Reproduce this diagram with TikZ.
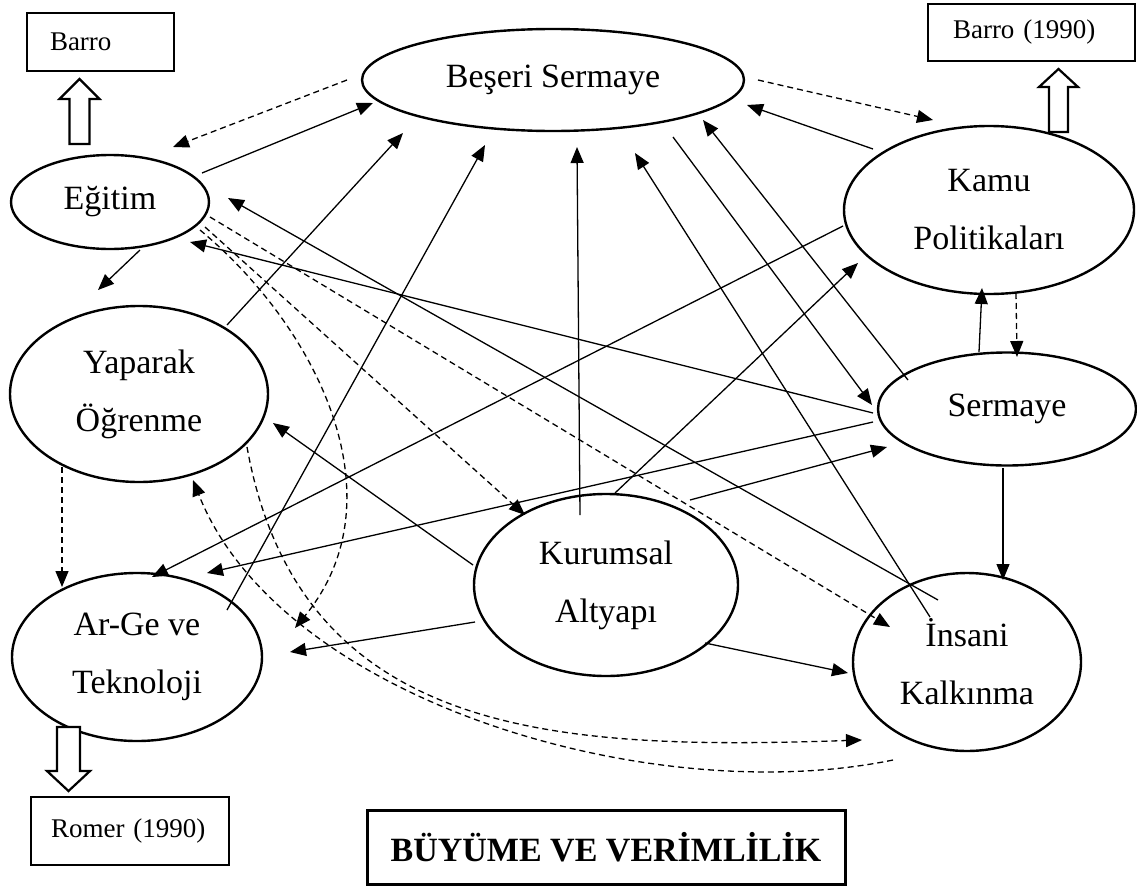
\documentclass[tikz,border=0pt]{standalone}
\usepackage{fontspec}
\setmainfont{Liberation Serif}
\usetikzlibrary{arrows.meta,shapes.geometric}
\begin{document}
\begin{tikzpicture}[x=1pt,y=-1pt,
  ell/.style={draw,ellipse,line width=2.4pt,inner sep=0pt,outer sep=0pt,align=center,font=\fontsize{34}{58}\selectfont},
  refbox/.style={draw,rectangle,line width=2pt,inner sep=0pt,align=left,font=\fontsize{27}{33}\selectfont},
  con/.style={line width=1.3pt,-{Triangle[length=16pt,width=13pt]}},
  dcon/.style={con,dash pattern=on 6pt off 4pt},
  hollow/.style={draw,line width=2.2pt,fill=white,line join=miter}
]
\useasboundingbox (0,0) rectangle (1137,886);

% ellipses
\node[ell,minimum width=382pt,minimum height=102pt] (bs) at (553,80) {Beşeri Sermaye};
\node[ell,minimum width=198pt,minimum height=94pt] (eg) at (110,202) {Eğitim};
\node[ell,minimum width=258pt,minimum height=176pt] (yo) at (139,394) {Yaparak\\Öğrenme};
\node[ell,minimum width=250pt,minimum height=168pt] (ag) at (137,657) {Ar-Ge ve\\Teknoloji};
\node[ell,minimum width=264pt,minimum height=182pt] (ka) at (606,585) {Kurumsal\\Altyapı};
\node[ell,minimum width=228pt,minimum height=178pt] (ik) at (967,662) {İnsani\\Kalkınma};
\node[ell,minimum width=258pt,minimum height=113pt] (se) at (1007,409) {Sermaye};
\node[ell,minimum width=290pt,minimum height=168pt] (kp) at (989,210) {Kamu\\Politikaları};

% reference boxes
\node[refbox,minimum width=147pt,minimum height=58pt,text width=101pt] (barro) at (100.5,42) {Barro};
\node[refbox,minimum width=207pt,minimum height=57pt,text width=157pt] (barro90) at (1031.5,32.5) {Barro (1990)};
\node[refbox,minimum width=198pt,minimum height=68pt,text width=158pt] (romer) at (130,831) {Romer (1990)};
\node[draw,rectangle,line width=3pt,minimum width=478pt,minimum height=74pt,inner sep=0pt,font=\bfseries\fontsize{34}{40}\selectfont] (title) at (606,847) {BÜYÜME VE VERİMLİLİK};

% hollow arrows
\draw[hollow] (69.5,144) -- (89.5,144) -- (89.5,99) -- (99.5,99) -- (79.5,79) -- (59.5,99) -- (69.5,99) -- cycle;
\draw[hollow] (1049,132) -- (1068,132) -- (1068,87) -- (1078,87) -- (1058.5,69) -- (1039,87) -- (1049,87) -- cycle;
\draw[hollow] (57,727) -- (80,727) -- (80,771) -- (90,771) -- (68.5,791) -- (47,771) -- (57,771) -- cycle;

% connectors
\draw[dcon] ([shift={(-206,0)}]bs.center) -- ([shift={(63,-55)}]eg.center);
\draw[con] ([shift={(92,-29)}]eg.center) -- ([shift={(-180,23)}]bs.center);
\draw[con] ([shift={(30,48)}]eg.center) -- ([shift={(-41,-104)}]yo.center);
\draw[con] ([shift={(-134,4)}]se.center) -- ([shift={(80,40)}]eg.center);
\draw[con] ([shift={(-29,-62)}]ik.center) -- ([shift={(118,-4)}]eg.center);
\draw[dcon] ([shift={(95,25)}]eg.center) -- ([shift={(-81,-70)}]ka.center);
\draw[dcon] ([shift={(100,15)}]eg.center) -- ([shift={(-77,-35)}]ik.center);
\draw[dcon] ([shift={(90,28)}]eg.center) .. controls (320,330) and (400,500) .. ([shift={(158,-29)}]ag.center);
\draw[con] ([shift={(88,-69)}]yo.center) -- ([shift={(-150,53)}]bs.center);
\draw[con] ([shift={(90,-47)}]ag.center) -- ([shift={(-68,65)}]bs.center);
\draw[con] ([shift={(-26,-70)}]ka.center) -- ([shift={(24,67)}]bs.center);
\draw[con] ([shift={(-37,-45)}]ik.center) -- ([shift={(82,73)}]bs.center);
\draw[con] ([shift={(120,57)}]bs.center) -- ([shift={(-135,-4)}]se.center);
\draw[con] ([shift={(-99,-29)}]se.center) -- ([shift={(150,40)}]bs.center);
\draw[con] ([shift={(-116,-61)}]kp.center) -- ([shift={(194,25)}]bs.center);
\draw[dcon] ([shift={(205,0)}]bs.center) -- ([shift={(-56,-90)}]kp.center);
\draw[con] ([shift={(-146,16)}]kp.center) -- ([shift={(15,-80)}]ag.center);
\draw[con] ([shift={(-134,13)}]se.center) -- ([shift={(70,-84)}]ag.center);
\draw[con] ([shift={(84,-85)}]ka.center) -- ([shift={(-120,38)}]se.center);
\draw[con] ([shift={(9,-92)}]ka.center) -- ([shift={(-131,53)}]kp.center);
\draw[con] ([shift={(-133,-20)}]ka.center) -- ([shift={(134,29)}]yo.center);
\draw[con] ([shift={(-131,37)}]ka.center) -- ([shift={(153,-5)}]ag.center);
\draw[con] ([shift={(99,58)}]ka.center) -- ([shift={(-119,11)}]ik.center);
\draw[con] ([shift={(-4,59)}]se.center) -- ([shift={(36,-82)}]ik.center);
\draw[con] ([shift={(-28,-57)}]se.center) -- ([shift={(-7,78)}]kp.center);
\draw[dcon] ([shift={(27,83)}]kp.center) -- ([shift={(10,-52)}]se.center);
\draw[dcon] ([shift={(-77,73)}]yo.center) -- ([shift={(-75,-70)}]ag.center);
\draw[dcon] ([shift={(108,53)}]yo.center) .. controls (300,740) and (560,750) .. ([shift={(-105,78)}]ik.center);
\draw[dcon] ([shift={(-74,98)}]ik.center) .. controls (650,810) and (280,700) .. ([shift={(54,86)}]yo.center);
\end{tikzpicture}
\end{document}
